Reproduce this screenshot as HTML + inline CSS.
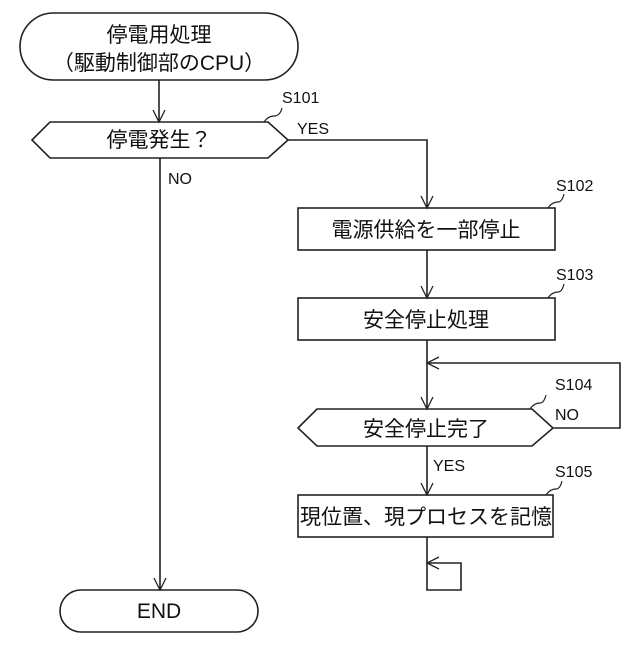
<!DOCTYPE html>
<html><head><meta charset="utf-8"><style>
body{margin:0;background:#fff}
svg text{font-family:"Liberation Sans","Noto Sans CJK JP",sans-serif;fill:#111}
</style></head><body>
<svg width="640" height="640" viewBox="0 0 640 640" xmlns="http://www.w3.org/2000/svg">
<g fill="none" stroke="#222" stroke-width="1.6">
<rect x="20" y="13" width="278" height="67" rx="33.5"/>
<rect x="60" y="590" width="198" height="42" rx="21"/>
<polygon points="32,140 50,122 268,122 288,140 268,158 50,158"/>
<rect x="298" y="208" width="257" height="42"/>
<rect x="298" y="298" width="257" height="42"/>
<polygon points="298,428 317,409 532,409 553,428 532,446 317,446"/>
<rect x="298" y="495" width="255" height="42"/>
<path d="M159,80V122M160,158V590M288,140H427V208M427,250V298M427,340V409M553,428H620V363H427M427,446V495M427,537V590H461V563H427"/>
<path d="M153,110L159,122L165,110M154,578L160,590L166,578M421,196L427,208L433,196M421,286L427,298L433,286M421,397L427,409L433,397M421,483L427,495L433,483M439,357L427,363L439,369M439,557L427,563L439,569" stroke-width="1.3"/>
<path d="M264,122q4,-6 10,-6q6,0 8,-8" stroke-width="1.2"/>
<path d="M548,208q4,-6 10,-6q4,0 6,-8" stroke-width="1.2"/>
<path d="M548,298q4,-6 10,-6q4,0 6,-8" stroke-width="1.2"/>
<path d="M530,409q4,-6 10,-6q4,0 6,-8" stroke-width="1.2"/>
<path d="M546,495q4,-6 10,-6q4,0 6,-8" stroke-width="1.2"/>
</g>
<g font-size="21" text-anchor="middle">
<text x="159" y="42">停電用処理</text>
<text x="159" y="70">（駆動制御部のCPU）</text>
<text x="159" y="147">停電発生？</text>
<text x="426" y="237">電源供給を一部停止</text>
<text x="426" y="327">安全停止処理</text>
<text x="426" y="436">安全停止完了</text>
<text x="426" y="524">現位置、現プロセスを記憶</text>
<text x="159" y="618">END</text>
</g>
<g font-size="16">
<text x="282" y="103">S101</text>
<text x="556" y="191">S102</text>
<text x="556" y="280">S103</text>
<text x="555" y="390">S104</text>
<text x="555" y="477">S105</text>
<text x="297" y="134">YES</text>
<text x="168" y="184">NO</text>
<text x="555" y="420">NO</text>
<text x="433" y="471">YES</text>
</g>
</svg>
</body></html>
